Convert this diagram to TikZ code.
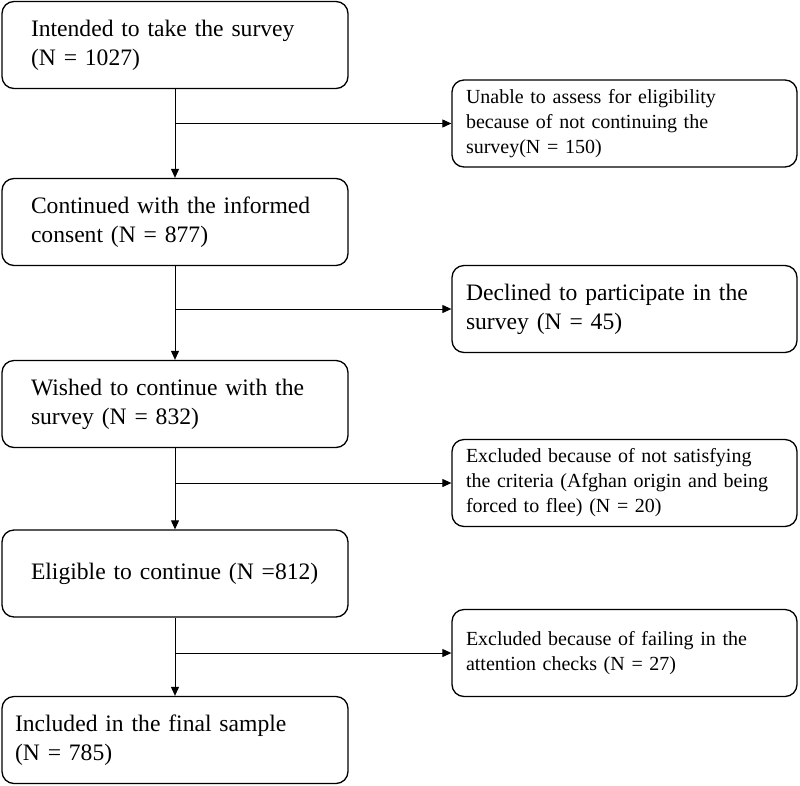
\documentclass[tikz,border=0pt]{standalone}
\usepackage{fontspec}
\setmainfont{Liberation Serif}
\usepackage{tikz}
\usetikzlibrary{arrows}
\usetikzlibrary{arrows.meta}
\usetikzlibrary{shapes}

\tikzset{
  mainbox/.style={draw, rounded corners=12pt, line width=1.3pt, minimum width=346pt, minimum height=87pt, text width=288pt, inner xsep=29pt, inner ysep=0pt, align=left, font=\fontsize{23.6}{29}\selectfont},
  sidebox/.style={draw, rounded corners=12pt, line width=1.3pt, minimum width=345pt, minimum height=87pt, text width=317pt, inner xsep=14pt, inner ysep=0pt, align=left, font=\fontsize{20}{25}\selectfont},
  flow/.style={-{Triangle[length=9pt,width=8pt]}, line width=1pt}
}

\begin{document}
\begin{tikzpicture}[x=1pt,y=-1pt]
\useasboundingbox (0,0) rectangle (800,785);
% linke Spalte
\node[mainbox] (intended) at (175,45) {Intended to take the survey\\(N = 1027)};
\node[mainbox] (consent) at (175,222) {Continued with the informed\\consent (N = 877)};
\node[mainbox] (wished) at (175,404) {Wished to continue with the\\survey (N = 832)};
\node[mainbox] (eligible) at (175,573.5) {Eligible to continue (N =812)};
\node[mainbox, inner xsep=13pt, text width=320pt] (final) at (175,740) {Included in the final sample\\(N = 785)};
% rechte Spalte
\node[sidebox] (unable) at (624.5,123.5) {Unable to assess for eligibility\\because of not continuing the\\survey(N = 150)};
\node[sidebox, font=\fontsize{23.6}{29}\selectfont] (declined) at (624.5,309) {Declined to participate in the\\survey (N = 45)};
\node[sidebox] (criteria) at (624.5,483) {Excluded because of not satisfying\\the criteria (Afghan origin and being\\forced to flee) (N = 20)};
\node[sidebox] (attention) at (624.5,653) {Excluded because of failing in the\\attention checks (N = 27)};

\draw[flow] (intended) -- (consent);
\draw[flow] (consent) -- (wished);
\draw[flow] (wished) -- (eligible);
\draw[flow] (eligible) -- (final);
\draw[flow] (intended.south |- unable.west) -- (unable.west);
\draw[flow] (consent.south |- declined.west) -- (declined.west);
\draw[flow] (wished.south |- criteria.west) -- (criteria.west);
\draw[flow] (eligible.south |- attention.west) -- (attention.west);
\end{tikzpicture}
\end{document}
